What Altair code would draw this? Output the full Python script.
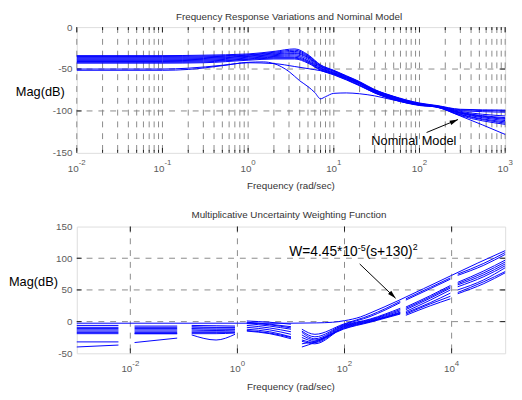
import altair as alt
import pandas as pd

FONT = "Liberation Sans"
BLUE = "#0000ff"
GRID = "#8a8a8a"
LABEL = "#5a5a5a"
DARK = "#333333"

# ---------------- top panel data ----------------
BAND_FREQ = [0.01, 0.1, 0.3, 1, 2, 3.5, 5, 7, 10, 14, 20, 30, 50, 100, 160, 300, 1000]
BAND_DB = [
    [-34, -34, -33.5, -32, -29, -26, -33, -45, -51.5, -58, -65, -74.5, -82.5, -90.5, -93.5, -98, -99],
    [-35, -35, -34.5, -33, -30, -27.5, -34, -45.5, -52, -58.5, -65.5, -75, -83, -91, -94, -98.5, -100],
    [-36, -36, -35.5, -33.5, -31, -29, -35, -46.5, -52.5, -59, -66, -75.5, -83.5, -91.5, -94, -99.5, -101.5],
    [-37, -37, -36.5, -34.5, -32, -30.5, -36, -47, -53, -59.5, -66.5, -76, -84, -91.5, -94.5, -100.5, -106],
    [-38, -38, -37.5, -35, -33, -31.5, -37, -48, -54, -60, -67, -76.5, -84.5, -92, -94.5, -101.5, -108],
    [-39, -39, -38.5, -36, -34, -33, -38.5, -49, -54.5, -60.5, -67.5, -77, -85, -92.5, -95, -102.5, -110],
    [-40, -40, -39.5, -37, -35, -34.5, -40, -49.5, -55, -61.5, -68, -77.5, -85.5, -92.5, -95, -103, -111.5],
    [-41, -41, -40.5, -38, -36, -36, -41, -50.5, -55.5, -62, -69, -78, -86, -93, -95, -104, -113],
    [-42, -42, -41.5, -38.5, -37, -37, -42, -51, -56.5, -62.5, -69.5, -78.5, -86.5, -93, -95.5, -104.5, -114.5],
    [-43, -43, -42.5, -39.5, -38, -38, -43, -51.5, -57, -63, -70, -78.5, -86.5, -93.5, -95.5, -105.5, -116],
]
M_FREQ = [0.01, 0.1, 0.2, 0.5, 1, 2, 3.5, 5, 7, 10, 14, 20, 30, 50, 100, 160, 300, 1000]
M_DB = [-50, -50, -49, -45.5, -42.5, -43.5, -47, -49.5, -52, -56, -61, -67, -75, -83, -91.5, -95, -102, -109]
N_FREQ = [0.01, 0.1, 0.2, 0.5, 1, 1.5, 2, 3, 4, 5, 6, 7, 8, 10, 14, 20, 30, 50, 100, 150, 300, 1000]
N_DB = [-51.5, -51.5, -50.5, -46, -42, -41.5, -43.5, -53, -64, -71, -78, -85.5, -83, -79, -78.5, -79.5, -82, -87, -92.5, -94.5, -106, -128]

TOP_Y_TICKS = [0, -50, -100, -150]
TOP_EXPONENTS = [-2, -1, 0, 1, 2, 3]

# ---------------- bottom panel data ----------------
SEG_FREQ = [
    [0.001, 0.006],
    [0.012, 0.075],
    [0.14, 0.4, 0.9],
    [1.5, 4, 10],
    [16, 28, 95, 300, 1100],
    [1400, 4000, 9500],
    [13000, 40000, 100000],
]
UNC_DB = [
    [-6, -6, -7, -7, -6, -6.5, -7, 1, -1, -4, -12, -20, -4, 10, 32, 36, 54, 69, 75, 92, 109],
    [-9, -9, -9, -9, -8, -9, -9, -1, -4, -8, -15, -24, -5, 8, 30, 34, 52, 67, 73, 89, 106],
    [-11, -11, -11, -11, -11, -12, -12, -3, -7, -12, -17, -27, -6, 4, 21, 23, 41, 57, 62, 80, 97],
    [-13, -13, -13, -13, -13, -14, -13, -6, -10, -16, -21, -29, -7, 3, 19, 21, 39, 55, 60, 77, 94],
    [-15, -15, -15, -15, -15, -15, -15, -9, -13, -20, -25, -31, -8, 2, 17, 19, 37, 53, 58, 74, 91],
    [-17, -17, -17, -17, -17, -17, -17, -12, -16, -24, -29, -33, -9, 1, 15, 16, 34, 50, 55, 71, 88],
    [-19, -19, -19, -19, -21, -29, -20, -15, -19, -27, -31, -35, -10, 0, 14, 12, 28, 40, 46, 63, 79],
    [-32, -32, -33, -26, -19, -19, -18, -14, -18, -25, -40, -33, -12, -1, 12, 10, 25, 36, 44, 60, 77],
    [-40, -37, -19, -19, -10, -10, -10, -2, -5, -10, -35, -31, -11, 0, 13, 14, 30, 45, 50, 66, 85],
]
W_FREQ = [0.001, 1, 10, 30, 60, 100, 200, 300, 1000, 3000, 10000, 30000, 100000]
W_DB = [-2.5, -2.5, -2.5, -2, -1, 1.5, 7.5, 13.5, 33, 52, 73, 92, 112]

BOT_Y_TICKS = [150, 100, 50, 0, -50]
BOT_EXPONENTS = [-2, 0, 2, 4]

# ---------------- sizes ----------------
WT, HT = 436, 128
WB, HB = 436, 129

xs_top = alt.Scale(type="log", domain=[0.01, 1000], nice=False)
ys_top = alt.Scale(domain=[-150, 0], nice=False, zero=False)
xs_bot = alt.Scale(type="log", domain=[0.001, 100000], nice=False)
ys_bot = alt.Scale(domain=[-50, 150], nice=False, zero=False)


def yaxis(values):
    return alt.Axis(values=values, labelExpr="'' + datum.value", labelColor=LABEL,
                    labelFont=FONT, labelFontSize=10, ticks=False, domain=False,
                    grid=False, labelPadding=5, title=None)


def X(scale):
    return alt.X("f:Q", scale=scale, axis=None)


def grid_layers(xvals, yvals, xs, ys, yax):
    g1 = alt.Chart(pd.DataFrame({"f": xvals})).mark_rule(
        color=GRID, strokeWidth=1, strokeDash=[6, 6]).encode(x=X(xs))
    g2 = alt.Chart(pd.DataFrame({"v": yvals})).mark_rule(
        color=GRID, strokeWidth=1, strokeDash=[6, 6]).encode(
        y=alt.Y("v:Q", scale=ys, axis=yax))
    return [g1, g2]


def tick_layers(xvals, lens, yvals, xs, ys, yax, W, H):
    df = pd.DataFrame({"f": xvals, "L": lens})
    out = []
    for L in sorted(set(lens)):
        d = df[df.L == L]
        out.append(alt.Chart(d).mark_rule(color="#222", strokeWidth=1).encode(
            x=X(xs), y=alt.value(H), y2=alt.value(H - L)))
        out.append(alt.Chart(d).mark_rule(color="#222", strokeWidth=1).encode(
            x=X(xs), y=alt.value(0), y2=alt.value(L)))
    dy = pd.DataFrame({"v": yvals})
    out.append(alt.Chart(dy).mark_rule(color="#222", strokeWidth=1).encode(
        y=alt.Y("v:Q", scale=ys, axis=yax), x=alt.value(0), x2=alt.value(5)))
    out.append(alt.Chart(dy).mark_rule(color="#222", strokeWidth=1).encode(
        y=alt.Y("v:Q", scale=ys, axis=yax), x=alt.value(W - 5), x2=alt.value(W)))
    return out


def xlabel_layers(exps, xs, H):
    out = []
    for neg in (True, False):
        sel = [e for e in exps if (e < 0) == neg]
        if not sel:
            continue
        df = pd.DataFrame({"f": [10.0 ** e for e in sel], "e": [str(e) for e in sel]})
        d10 = -9.1 if neg else -7.8
        dex = 2.0 if neg else 3.3
        out.append(alt.Chart(df).mark_text(align="left", baseline="alphabetic", dx=d10,
                                           font=FONT, fontSize=10, color=LABEL).encode(
            x=X(xs), y=alt.value(H + 19), text=alt.value("10")))
        out.append(alt.Chart(df).mark_text(align="left", baseline="alphabetic", dx=dex,
                                           font=FONT, fontSize=8, color=LABEL).encode(
            x=X(xs), y=alt.value(H + 12.5), text="e:N"))
    return out


def static_text(txt, x, y, size, color, align="left", baseline="middle"):
    return alt.Chart(pd.DataFrame({"t": [txt]})).mark_text(
        align=align, baseline=baseline, font=FONT, fontSize=size, color=color).encode(
        x=alt.value(x), y=alt.value(y), text="t:N")


def arrow_layers(tail, head, angle, xs, ys, yax):
    df = pd.DataFrame({"f": [tail[0]], "v": [tail[1]], "f2": [head[0]], "v2": [head[1]]})
    line = alt.Chart(df).mark_rule(color="black", strokeWidth=1).encode(
        x=X(xs), y=alt.Y("v:Q", scale=ys, axis=yax), x2="f2:Q", y2="v2:Q")
    hd = pd.DataFrame({"f": [head[0]], "v": [head[1]]})
    tip = alt.Chart(hd).mark_point(shape="M0,0L0.6,2.2L-0.6,2.2Z", filled=True, color="black",
                                   opacity=1, size=60, angle=angle, strokeWidth=0).encode(
        x=X(xs), y=alt.Y("v:Q", scale=ys, axis=yax))
    return [line, tip]


# ---------------- top panel ----------------
yax_t = yaxis(TOP_Y_TICKS)
grid_x_top = [k * 10.0 ** d for d in range(-2, 3) for k in range(1, 10)] + [1000.0]
tick_len_top = [5 if k == 1 else 3 for d in range(-2, 3) for k in range(1, 10)] + [5]

rows = []
for i, dbs in enumerate(BAND_DB):
    for f, v in zip(BAND_FREQ, dbs):
        rows.append({"c": f"b{i}", "f": f, "v": v})
for f, v in zip(M_FREQ, M_DB):
    rows.append({"c": "m", "f": f, "v": v})
for f, v in zip(N_FREQ, N_DB):
    rows.append({"c": "n", "f": f, "v": v})
top_df = pd.DataFrame(rows)

top_lines = alt.Chart(top_df).mark_line(color=BLUE, strokeWidth=1, interpolate="monotone").encode(
    x=X(xs_top), y=alt.Y("v:Q", scale=ys_top, axis=yax_t), detail="c:N")

nom_df = pd.DataFrame({"f": [27.4], "v": [-141.0], "t": ["Nominal Model"]})
nom_text = alt.Chart(nom_df).mark_text(align="left", baseline="alphabetic", font=FONT,
                                       fontSize=13, color="black").encode(
    x=X(xs_top), y=alt.Y("v:Q", scale=ys_top, axis=yax_t), text="t:N")

top = alt.layer(
    *grid_layers(grid_x_top, [-50, -100], xs_top, ys_top, yax_t),
    *tick_layers(grid_x_top, tick_len_top, [-50, -100], xs_top, ys_top, yax_t, WT, HT),
    top_lines,
    *arrow_layers((121.0, -125.7), (281.8, -110.2), 67, xs_top, ys_top, yax_t),
    nom_text,
    *xlabel_layers(TOP_EXPONENTS, xs_top, HT),
    static_text("Frequency (rad/sec)", WT / 2, HT + 37, 10, DARK, align="center", baseline="alphabetic"),
    static_text("Mag(dB)", -62, 66, 13, "black"),
    static_text("Frequency Response Variations and Nominal Model", WT / 2 - 2, -14.8, 10, DARK,
                align="center", baseline="top"),
).properties(width=WT, height=HT)

# ---------------- bottom panel ----------------
yax_b = yaxis(BOT_Y_TICKS)
rows = []
for i, dbs in enumerate(UNC_DB):
    k = 0
    for s, fs in enumerate(SEG_FREQ):
        for f in fs:
            rows.append({"c": f"u{i}-{s}", "f": f, "v": dbs[k]})
            k += 1
for f, v in zip(W_FREQ, W_DB):
    rows.append({"c": "W", "f": f, "v": v})
bot_df = pd.DataFrame(rows)

bot_lines = alt.Chart(bot_df).mark_line(color=BLUE, strokeWidth=1, interpolate="monotone").encode(
    x=X(xs_bot), y=alt.Y("v:Q", scale=ys_bot, axis=yax_b), detail="c:N")

wf = 9.31
wv = 103.5
w_parts = [("W=4.45*10", 14, 0, 0), ("-5", 9, 69.7, -5), ("(s+130)", 14, 77.7, 0), ("2", 9, 125.6, -6)]
w_layers = []
for txt, size, dx, dy in w_parts:
    w_layers.append(alt.Chart(pd.DataFrame({"f": [wf], "v": [wv], "t": [txt]})).mark_text(
        align="left", baseline="alphabetic", font=FONT, fontSize=size, color="black", dx=dx, dy=dy).encode(
        x=X(xs_bot), y=alt.Y("v:Q", scale=ys_bot, axis=yax_b), text="t:N"))

bottom = alt.layer(
    *grid_layers([0.01, 1, 100, 10000], [0, 50, 100], xs_bot, ys_bot, yax_b),
    *tick_layers([0.01, 1, 100, 10000], [5, 5, 5, 5], [0, 50, 100], xs_bot, ys_bot, yax_b, WB, HB),
    bot_lines,
    *arrow_layers((192.0, 91.0), (900.0, 36.8), 135, xs_bot, ys_bot, yax_b),
    *w_layers,
    *xlabel_layers(BOT_EXPONENTS, xs_bot, HB),
    static_text("Frequency (rad/sec)", WB / 2, HB + 37, 10, DARK, align="center", baseline="alphabetic"),
    static_text("Mag(dB)", -69, 57, 13, "black"),
    static_text("Multiplicative Uncertainty Weighting Function", WB / 2 - 2, -9, 10, DARK,
                align="center", baseline="alphabetic"),
).properties(width=WB, height=HB)

chart = alt.vconcat(top, bottom, spacing=75, bounds="flush").properties(
    padding={"left": 0, "top": 0, "right": 0, "bottom": 0}
).configure_view(stroke="#262626", strokeWidth=1).configure(background="white")

chart.save("out.html", embed_options={"renderer": "svg", "actions": False})
